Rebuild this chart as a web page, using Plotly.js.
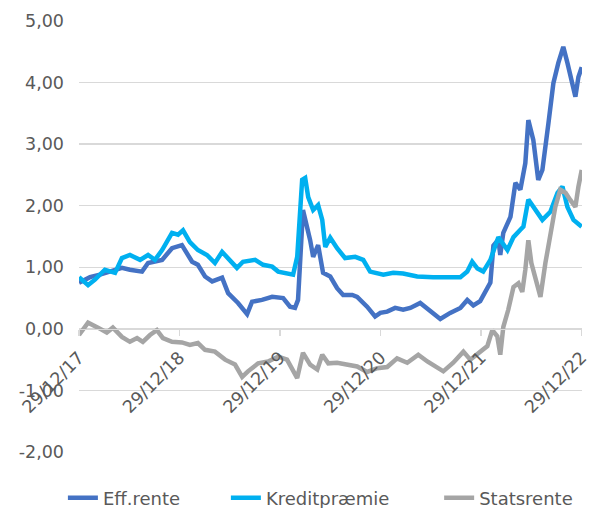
<!DOCTYPE html>
<html>
<head>
<meta charset="utf-8">
<script src="https://cdn.plot.ly/plotly-3.0.1.min.js"></script>
<style>html,body{margin:0;padding:0;background:#fff;}#chart{width:589px;height:508px;}</style>
</head>
<body>
<div id="chart"></div>
<script>
// ---- data ----
const effDates = ['2017-12-29','2018-02-07','2018-03-15','2018-04-20','2018-06-03','2018-07-02','2018-08-15','2018-09-06','2018-10-27','2018-12-02','2019-01-07','2019-02-13','2019-03-06','2019-04-01','2019-04-27','2019-06-02','2019-06-24','2019-07-30','2019-09-01','2019-09-19','2019-10-25','2019-12-01','2020-01-10','2020-02-04','2020-02-22','2020-03-04','2020-03-22','2020-04-17','2020-04-28','2020-05-16','2020-06-03','2020-06-29','2020-07-24','2020-08-15','2020-09-17','2020-10-05','2020-11-10','2020-12-09','2020-12-28','2021-01-22','2021-02-20','2021-03-21','2021-04-16','2021-05-22','2021-06-20','2021-08-03','2021-09-08','2021-10-15','2021-11-09','2021-12-01','2021-12-26','2022-01-14','2022-02-01','2022-02-12','2022-03-02','2022-03-09','2022-03-20','2022-04-15','2022-05-03','2022-05-21','2022-06-08','2022-06-19','2022-07-07','2022-07-25','2022-08-09','2022-08-31','2022-09-18','2022-10-06','2022-10-24','2022-11-08','2022-11-19','2022-12-07','2022-12-18','2022-12-30'];
const effValues = [0.75,0.84,0.88,0.93,0.99,0.96,0.93,1.07,1.12,1.31,1.36,1.09,1.04,0.85,0.77,0.83,0.58,0.42,0.24,0.44,0.47,0.52,0.50,0.36,0.34,0.47,1.93,1.44,1.17,1.36,0.91,0.85,0.66,0.55,0.55,0.52,0.36,0.20,0.26,0.28,0.34,0.31,0.34,0.42,0.31,0.16,0.26,0.34,0.47,0.38,0.45,0.62,0.75,1.35,1.45,1.20,1.56,1.82,2.37,2.26,2.69,3.39,3.07,2.42,2.58,3.34,3.99,4.32,4.58,4.32,4.09,3.77,4.09,4.25];

const kredDates = ['2017-12-29','2018-01-31','2018-02-25','2018-04-02','2018-05-09','2018-06-03','2018-07-02','2018-08-08','2018-09-06','2018-10-01','2018-10-27','2018-12-02','2018-12-24','2019-01-11','2019-02-05','2019-03-06','2019-04-08','2019-05-07','2019-06-02','2019-06-24','2019-07-26','2019-08-17','2019-09-30','2019-10-29','2019-12-01','2019-12-23','2020-01-24','2020-02-15','2020-03-01','2020-03-19','2020-03-30','2020-04-10','2020-04-28','2020-05-16','2020-05-31','2020-06-11','2020-06-29','2020-07-24','2020-08-22','2020-09-28','2020-10-27','2020-11-21','2021-01-08','2021-02-13','2021-03-21','2021-05-11','2021-07-08','2021-09-08','2021-10-15','2021-11-09','2021-11-27','2021-12-16','2022-01-06','2022-02-01','2022-03-02','2022-04-04','2022-04-26','2022-05-21','2022-06-01','2022-06-19','2022-07-14','2022-08-09','2022-09-07','2022-10-03','2022-10-21','2022-11-08','2022-11-30','2022-12-30'];
const kredValues = [0.84,0.71,0.80,0.96,0.91,1.15,1.20,1.12,1.20,1.12,1.28,1.56,1.53,1.60,1.41,1.28,1.20,1.07,1.25,1.15,0.99,1.09,1.12,1.04,1.01,0.93,0.91,0.88,1.17,2.42,2.45,2.14,1.93,2.01,1.77,1.33,1.48,1.31,1.15,1.17,1.12,0.93,0.88,0.91,0.90,0.85,0.84,0.83,0.84,0.93,1.09,0.98,0.93,1.12,1.49,1.28,1.49,1.61,1.66,2.10,1.93,1.77,1.90,2.21,2.31,1.98,1.77,1.66];

const statDates = ['2017-12-29','2018-01-31','2018-03-08','2018-04-09','2018-05-01','2018-06-03','2018-07-02','2018-07-28','2018-08-18','2018-09-13','2018-10-08','2018-10-30','2018-12-02','2019-01-07','2019-02-05','2019-03-06','2019-04-01','2019-05-07','2019-06-13','2019-07-19','2019-08-14','2019-09-04','2019-10-11','2019-11-16','2019-12-23','2020-01-24','2020-03-01','2020-03-22','2020-04-17','2020-05-13','2020-05-31','2020-06-22','2020-07-24','2020-08-30','2020-10-05','2020-11-10','2020-12-17','2021-01-22','2021-02-27','2021-04-05','2021-05-15','2021-06-17','2021-07-23','2021-08-14','2021-09-19','2021-10-26','2021-11-20','2021-12-26','2022-01-21','2022-02-08','2022-02-26','2022-03-09','2022-03-20','2022-04-07','2022-04-26','2022-05-14','2022-05-28','2022-06-08','2022-06-19','2022-06-30','2022-07-14','2022-08-02','2022-08-20','2022-09-07','2022-09-25','2022-10-13','2022-11-01','2022-11-19','2022-12-07','2022-12-18','2022-12-30'];
const statValues = [-0.10,0.10,0.02,-0.06,0.02,-0.13,-0.21,-0.15,-0.21,-0.10,-0.02,-0.15,-0.21,-0.22,-0.26,-0.23,-0.34,-0.37,-0.50,-0.58,-0.78,-0.69,-0.56,-0.53,-0.45,-0.50,-0.80,-0.39,-0.58,-0.66,-0.42,-0.56,-0.55,-0.58,-0.61,-0.70,-0.64,-0.62,-0.48,-0.55,-0.42,-0.53,-0.64,-0.69,-0.55,-0.37,-0.50,-0.36,-0.28,-0.02,-0.12,-0.42,0.03,0.31,0.68,0.74,0.60,0.96,1.44,1.07,0.85,0.52,1.07,1.49,1.98,2.26,2.21,2.09,1.98,2.31,2.58];

const seriesNames = ['Eff.rente','Kreditpræmie','Statsrente'];
const xTickVals = ['2017-12-29','2018-12-29','2019-12-29','2020-12-29','2021-12-29','2022-12-29'];
const xTickText = ['29/12/17','29/12/18','29/12/19','29/12/20','29/12/21','29/12/22'];
const yTickVals = [-2,-1,0,1,2,3,4,5];
const yTickText = ['-2,00','-1,00','0,00','1,00','2,00','3,00','4,00','5,00'];

// ---- styling ----
const colors = ['#4472C4','#00B0F0','#A5A5A5'];
const font = 'DejaVu Sans, sans-serif';
const textColor = '#595959';
const grid = '#D9D9D9';
const legendIds = ['legend','legend2','legend3'];

const mk = (x, y, i) => ({
  type: 'scatter', mode: 'lines', x: x, y: y, name: seriesNames[i],
  legend: legendIds[i],
  line: {color: colors[i], width: 4.5, shape: 'linear'}
});

const data = [mk(effDates, effValues, 0), mk(kredDates, kredValues, 1), mk(statDates, statValues, 2)];

const legendBase = (x) => ({orientation: 'h', x: x, xanchor: 'left', y: -0.107, yanchor: 'middle',
  font: {family: font, size: 18, color: textColor}, bgcolor: 'rgba(0,0,0,0)'});

const yMin = -2, yMax = 5;
const layout = {
  width: 589, height: 508,
  margin: {l: 79, r: 7, t: 21, b: 56, autoexpand: false},
  paper_bgcolor: '#ffffff', plot_bgcolor: '#ffffff',
  font: {family: font, color: textColor, size: 16},
  showlegend: true,
  legend: legendBase(-0.032),
  legend2: legendBase(0.292),
  legend3: legendBase(0.716),
  xaxis: {
    type: 'date', range: ['2017-12-29', '2022-12-31'],
    anchor: 'free', position: (0 - yMin) / (yMax - yMin),
    showgrid: false, zeroline: false,
    showline: true, linecolor: grid, linewidth: 1.5,
    ticks: 'outside', ticklen: 6, tickcolor: grid, tickwidth: 1.5,
    tickmode: 'array', tickvals: xTickVals, ticktext: xTickText,
    tickangle: -45, ticklabeloverflow: 'allow', ticklabelstandoff: 4,
    tickfont: {family: font, size: 17.5, color: textColor}
  },
  yaxis: {
    range: [yMin, yMax], showgrid: true, gridcolor: grid, gridwidth: 1.5,
    zeroline: false, showline: false, ticks: '',
    tickmode: 'array', tickvals: yTickVals, ticktext: yTickText,
    tickfont: {family: font, size: 17.5, color: textColor},
    ticklabelstandoff: 14
  }
};

Plotly.newPlot('chart', data, layout, {displayModeBar: false, staticPlot: true});
</script>
</body>
</html>
